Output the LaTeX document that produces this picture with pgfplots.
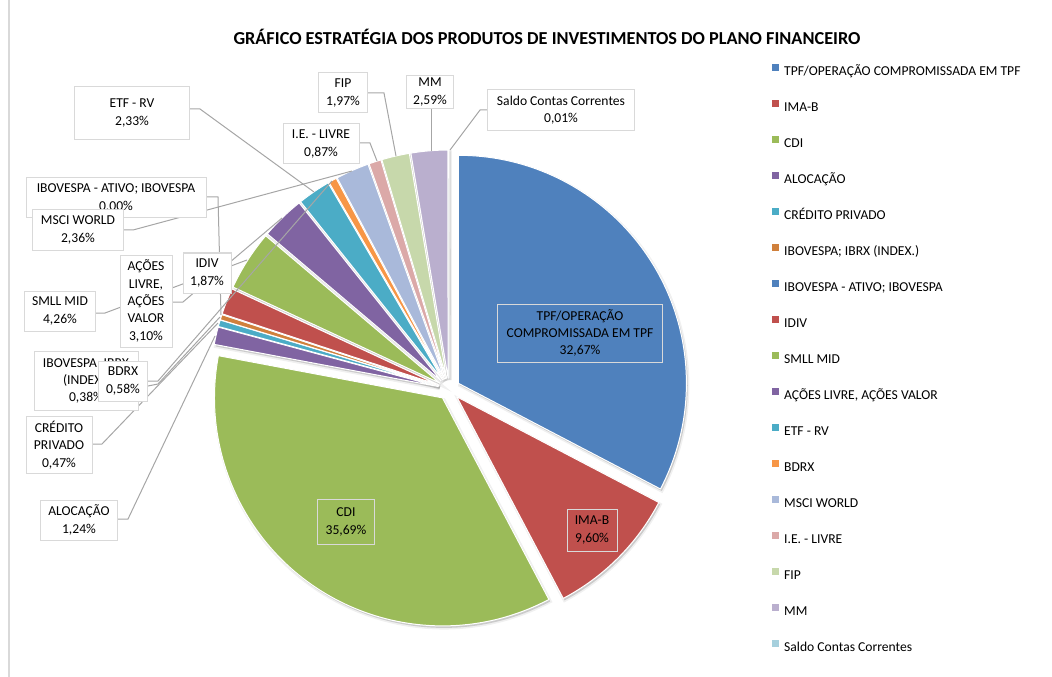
\documentclass[border=0pt]{standalone}
\usepackage{fontspec}
\setmainfont{Carlito}
\usepackage{pgfplots}
\usepackage{pgfplotstable}
\pgfplotsset{compat=1.18}

\definecolor{cTPF}{HTML}{4F81BD}
\definecolor{cIMAB}{HTML}{C0504D}
\definecolor{cCDI}{HTML}{9BBB59}
\definecolor{cALOC}{HTML}{8064A2}
\definecolor{cCRED}{HTML}{4BACC6}
\definecolor{cIBRX}{HTML}{D0803C}
\definecolor{cATIVO}{HTML}{4F81BD}
\definecolor{cIDIV}{HTML}{C0504D}
\definecolor{cSMLL}{HTML}{9BBB59}
\definecolor{cACOES}{HTML}{8064A2}
\definecolor{cETF}{HTML}{4BACC6}
\definecolor{cBDRX}{HTML}{F79646}
\definecolor{cMSCI}{HTML}{A9B9DA}
\definecolor{cIE}{HTML}{DBA9A8}
\definecolor{cFIP}{HTML}{C7D8AB}
\definecolor{cMM}{HTML}{BAAFCE}
\definecolor{cSALDO}{HTML}{A6D0DD}
\definecolor{boxgray}{HTML}{D9D9D9}
\definecolor{leadgray}{HTML}{A6A6A6}

% share of each product (%), clockwise from 12 o'clock
\pgfplotstableread{
pct   col
32.67 cTPF
9.60  cIMAB
35.69 cCDI
1.24  cALOC
0.47  cCRED
0.38  cIBRX
0.00  cATIVO
1.87  cIDIV
4.26  cSMLL
3.10  cACOES
2.33  cETF
0.58  cBDRX
2.36  cMSCI
0.87  cIE
1.97  cFIP
2.59  cMM
0.01  cSALDO
}\piedata

% pie geometry, in pixels of the picture (1px = 0.75pt)
\def\cx{449}\def\cy{389}
\def\rad{171pt}\def\expl{8.25pt}

% one pass over the slices; #1 = extra options of each wedge
\newcommand\pieslices[1]{%
  \def\cum{0}%
  \pgfplotsforeachungrouped \i in {0,...,16}{%
    \pgfplotstablegetelem{\i}{pct}\of\piedata \let\pct\pgfplotsretval
    \pgfplotstablegetelem{\i}{col}\of\piedata \let\slicecol\pgfplotsretval
    \pgfmathsetmacro\aone{90-3.6*\cum}%
    \pgfmathsetmacro\cum{\cum+\pct}%
    \pgfmathsetmacro\atwo{90-3.6*\cum}%
    \pgfmathsetmacro\amid{(\aone+\atwo)/2}%
    \edef\cmd{\noexpand\fill[\slicecol, #1]
      (axis cs:\cx,\cy) ++(\amid:\expl) -- ++(\aone:\rad)
      arc[start angle=\aone, end angle=\atwo, radius=\rad] -- cycle;}%
    \cmd
  }%
}

\tikzset{lbl/.style={draw=boxgray, line width=0.75pt, fill=white, align=center,
    inner sep=0pt, text=black, font=\fontsize{10.2}{13}\selectfont}}
\newcommand\lbox[6][]{\node[lbl, minimum width=#4*0.75pt, minimum height=#5*0.75pt, #1]
  at (axis cs:#2,#3) {#6};}

\begin{document}
\begin{tikzpicture}
\begin{axis}[
    scale only axis, width=789pt, height=507.75pt,
    xmin=0, xmax=1052, ymin=0, ymax=677, y dir=reverse,
    hide axis, clip=false,
    legend style={at={(axis cs:772,63.8)}, anchor=north west, draw=none, fill=none,
        inner sep=0pt, outer sep=0pt, row sep=15.75pt, column sep=3.75pt,
        font=\fontsize{10.2}{12}\selectfont,
        nodes={inner sep=0pt, text height=8pt, text depth=2.5pt}},
    legend cell align=left,
    legend image code/.code={\fill[#1, draw=none] (0pt,0.6pt) rectangle (5.4pt,6pt);},
]
% chart area border (left side only visible)
\draw[boxgray, line width=1.5pt] (axis cs:8.5,0) -- (axis cs:8.5,677);

% soft shadow, then the slices
\pieslices{fill=black, draw=black, line width=2.5pt, opacity=0.06, xshift=1pt, yshift=-1.5pt}
\pieslices{fill=black, draw=none, opacity=0.10, xshift=1pt, yshift=-1.5pt}
\pieslices{draw=white, line width=0.75pt, line join=round}

% leader lines
\begin{scope}[leadgray, line width=0.75pt]
\draw (axis cs:117,519) -- (axis cs:128,519) -- (axis cs:215,336);
\draw (axis cs:92,444) -- (axis cs:102,444) -- (axis cs:218,323);
\draw (axis cs:138,388) -- (axis cs:158,384) -- (axis cs:220,317);
\draw (axis cs:206,197) -- (axis cs:218,197) -- (axis cs:221,315);
\draw (axis cs:95,313) -- (axis cs:105,313) -- (axis cs:247,260);
\draw (axis cs:172,302) -- (axis cs:183,302) -- (axis cs:282,218);
\draw (axis cs:189,109) -- (axis cs:200,109) -- (axis cs:314,192);
\draw (axis cs:148,381) -- (axis cs:158,381) -- (axis cs:332,181);
\draw (axis cs:123,230) -- (axis cs:133,230) -- (axis cs:352,171);
\draw (axis cs:359,143) -- (axis cs:370,143) -- (axis cs:377,161);
\draw (axis cs:368,93) -- (axis cs:384,93) -- (axis cs:396,156);
\draw (axis cs:431,109) -- (axis cs:431,151);
\draw (axis cs:488,110) -- (axis cs:480,110) -- (axis cs:450,150);
\end{scope}

% data labels
\lbox[fill=none]{580}{333}{165}{58}{TPF/OPERAÇÃO\\COMPROMISSADA EM TPF\\32,67\%}
\lbox[fill=none]{592}{530}{50}{42}{IMA-B\\9,60\%}
\lbox[fill=none]{346}{522}{57}{45}{CDI\\35,69\%}
\lbox{79}{520}{77}{40}{ALOCAÇÃO\\1,24\%}
\lbox{59}{445}{66}{57}{CRÉDITO\\PRIVADO\\0,47\%}
\lbox{86}{381}{104}{59}{IBOVESPA; IBRX\\(INDEX.)\\0,38\%}
\lbox{116}{198}{180}{40}{IBOVESPA - ATIVO; IBOVESPA\\0,00\%}
\lbox{207}{273}{48}{40}{IDIV\\1,87\%}
\lbox{60}{311}{71}{40}{SMLL MID\\4,26\%}
\lbox{146}{301}{52}{92}{AÇÕES\\LIVRE,\\AÇÕES\\VALOR\\3,10\%}
\lbox{132}{113}{115}{53}{ETF - RV\\2,33\%}
\lbox{123}{381}{49}{40}{BDRX\\0,58\%}
\lbox{78}{230}{91}{41}{MSCI WORLD\\2,36\%}
\lbox{321}{144}{76}{40}{I.E. - LIVRE\\0,87\%}
\lbox{343}{93}{49}{40}{FIP\\1,97\%}
\lbox{430}{92}{47}{33}{MM\\2,59\%}
\lbox{561}{110}{147}{41}{Saldo Contas Correntes\\0,01\%}

% title
\node[font=\fontsize{13.7}{16}\selectfont\bfseries] at (axis cs:547,37)
  {GRÁFICO ESTRATÉGIA DOS PRODUTOS DE INVESTIMENTOS DO PLANO FINANCEIRO};

% legend
\addlegendimage{fill=cTPF}\addlegendentry{TPF/OPERAÇÃO COMPROMISSADA EM TPF}
\addlegendimage{fill=cIMAB}\addlegendentry{IMA-B}
\addlegendimage{fill=cCDI}\addlegendentry{CDI}
\addlegendimage{fill=cALOC}\addlegendentry{ALOCAÇÃO}
\addlegendimage{fill=cCRED}\addlegendentry{CRÉDITO PRIVADO}
\addlegendimage{fill=cIBRX}\addlegendentry{IBOVESPA; IBRX (INDEX.)}
\addlegendimage{fill=cATIVO}\addlegendentry{IBOVESPA - ATIVO; IBOVESPA}
\addlegendimage{fill=cIDIV}\addlegendentry{IDIV}
\addlegendimage{fill=cSMLL}\addlegendentry{SMLL MID}
\addlegendimage{fill=cACOES}\addlegendentry{AÇÕES LIVRE, AÇÕES VALOR}
\addlegendimage{fill=cETF}\addlegendentry{ETF - RV}
\addlegendimage{fill=cBDRX}\addlegendentry{BDRX}
\addlegendimage{fill=cMSCI}\addlegendentry{MSCI WORLD}
\addlegendimage{fill=cIE}\addlegendentry{I.E. - LIVRE}
\addlegendimage{fill=cFIP}\addlegendentry{FIP}
\addlegendimage{fill=cMM}\addlegendentry{MM}
\addlegendimage{fill=cSALDO}\addlegendentry{Saldo Contas Correntes}
\end{axis}
% the page is exactly the axis rectangle
\pgfresetboundingbox
\path (current axis.south west) rectangle (current axis.north east);
\end{tikzpicture}
\end{document}
